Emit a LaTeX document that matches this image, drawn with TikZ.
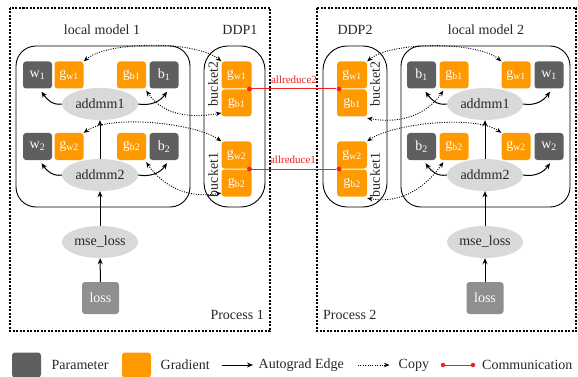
\documentclass[tikz,border=0pt]{standalone}
\usepackage{fontspec}
\setmainfont{Liberation Serif}
\usetikzlibrary{shapes.geometric,arrows.meta}
\definecolor{pgray}{HTML}{5F5F5F}
\definecolor{gorange}{HTML}{FF9900}
\definecolor{opgray}{HTML}{D9D9D9}
\definecolor{lossgray}{HTML}{8F8F8F}
\definecolor{commred}{HTML}{EE2222}
\tikzset{
  fnt/.style={font=\fontsize{14}{16}\selectfont},
  box/.style={fnt, rounded corners=3pt, minimum width=29pt, minimum height=27pt, inner sep=0pt, text=white},
  param/.style={box, fill=pgray},
  grad/.style={box, fill=gorange},
  dgrad/.style={grad, minimum width=30pt},
  op/.style={fnt, ellipse, fill=opgray, minimum width=76pt, minimum height=32pt, inner sep=0pt, text=black!85},
  lossbox/.style={box, fill=lossgray, minimum width=37pt, minimum height=32pt},
  lbl/.style={fnt, inner sep=0pt, text=black!85},
  grouprect/.style={draw, line width=0.9pt, rounded corners=20pt},
  ddprect/.style={draw, line width=0.9pt, rounded corners=24pt},
  procrect/.style={draw, line width=1.1pt, dash pattern=on 2pt off 1.5pt},
  autog/.style={-{Stealth[length=6pt,width=5pt]}, line width=1pt},
  copyarr/.style={{Stealth[length=5.5pt,width=4.5pt]}-{Stealth[length=5.5pt,width=4.5pt]}, line width=0.9pt, dash pattern=on 1pt off 1.4pt},
  comm/.style={commred, line width=1pt},
  rdot/.style={circle, fill=commred, inner sep=0pt, minimum size=5pt},
  redlbl/.style={font=\fontsize{11}{12}\selectfont, text=commred, inner sep=0pt},
}
\begin{document}
\begin{tikzpicture}[x=1pt,y=1pt]
\useasboundingbox (0,0) rectangle (578,-377);

% ---------- frames ----------
\draw[procrect] (10,-8) rectangle (270,-331);
\draw[procrect] (317,-8) rectangle (576,-331);
\draw[grouprect] (16,-46) rectangle (190,-207);
\draw[ddprect] (204,-46) rectangle (265,-207);
\draw[ddprect] (323,-46) rectangle (387,-207);
\draw[grouprect] (401,-46) rectangle (570,-207);

\node[lbl] (t1) at (102,-30) {local model 1};
\node[lbl] (t2) at (240,-30) {DDP1};
\node[lbl] (t3) at (355,-30) {DDP2};
\node[lbl] (t4) at (486,-30) {local model 2};
\node[lbl, anchor=east] (p1) at (264,-315) {Process 1};
\node[lbl, anchor=west] (p2) at (323,-315) {Process 2};

% ---------- Process 1 ----------
\node[param] (aw1) at (37.5,-75) {w\textsubscript{1}};
\node[grad]  (agw1) at (69,-75) {g\textsubscript{w1}};
\node[grad]  (agb1) at (131.5,-75) {g\textsubscript{b1}};
\node[param] (ab1) at (164,-75) {b\textsubscript{1}};
\node[op] (aadd1) at (100,-104) {addmm1};
\node[param] (aw2) at (37.5,-146.5) {w\textsubscript{2}};
\node[grad]  (agw2) at (69,-146.5) {g\textsubscript{w2}};
\node[grad]  (agb2) at (131.5,-146.5) {g\textsubscript{b2}};
\node[param] (ab2) at (164,-146.5) {b\textsubscript{2}};
\node[op] (aadd2) at (100,-175) {addmm2};
\node[op] (amse) at (100,-242) {mse\_loss};
\node[lossbox] (aloss) at (100.5,-298) {loss};

\node[dgrad] (dagw1) at (236.5,-75) {g\textsubscript{w1}};
\node[dgrad] (dagb1) at (236.5,-103) {g\textsubscript{b1}};
\node[dgrad] (dagw2) at (236.5,-155) {g\textsubscript{w2}};
\node[dgrad] (dagb2) at (236.5,-183) {g\textsubscript{b2}};
\node[lbl, rotate=90] (abk2) at (213,-84) {bucket2};
\node[lbl, rotate=90] (abk1) at (213,-175) {bucket1};

\draw[autog] (aloss) -- (amse);
\draw[autog] (amse) -- (aadd2);
\draw[autog] (aadd2) -- (aadd1);
\draw[autog] (aadd1.west) to[out=190,in=-55] ([xshift=4pt,yshift=-3pt]aw1.south);
\draw[autog] (aadd1.east) to[out=-10,in=235] ([xshift=3pt,yshift=-3pt]ab1.south);
\draw[autog] (aadd2.west) to[out=190,in=-55] ([xshift=4pt,yshift=-3pt]aw2.south);
\draw[autog] (aadd2.east) to[out=-10,in=235] ([xshift=3pt,yshift=-3pt]ab2.south);

\draw[copyarr] (agw1.north east) to[out=40,in=140,looseness=0.6] (dagw1.north west);
\draw[copyarr] ([xshift=0pt,yshift=-2pt]agb1.south east) to[out=-55,in=190] ([yshift=-10pt]dagb1.west);
\draw[copyarr] (agw2.north east) to[out=35,in=145,looseness=0.6] (dagw2.north west);
\draw[copyarr] ([xshift=0pt,yshift=-2pt]agb2.south east) to[out=-55,in=190] ([yshift=-10pt]dagb2.west);

% ---------- Process 2 ----------
\node[param] (bb1) at (421.5,-75) {b\textsubscript{1}};
\node[grad]  (bgb1) at (454,-75) {g\textsubscript{b1}};
\node[grad]  (bgw1) at (516,-75) {g\textsubscript{w1}};
\node[param] (bw1) at (549,-75) {w\textsubscript{1}};
\node[op] (badd1) at (485,-104) {addmm1};
\node[param] (bb2) at (421.5,-146.5) {b\textsubscript{2}};
\node[grad]  (bgb2) at (454,-146.5) {g\textsubscript{b2}};
\node[grad]  (bgw2) at (516,-146.5) {g\textsubscript{w2}};
\node[param] (bw2) at (549,-146.5) {w\textsubscript{2}};
\node[op] (badd2) at (485,-175) {addmm2};
\node[op] (bmse) at (485,-242) {mse\_loss};
\node[lossbox] (bloss) at (485,-298) {loss};

\node[dgrad] (dbgw1) at (352,-75) {g\textsubscript{w1}};
\node[dgrad] (dbgb1) at (352,-103) {g\textsubscript{b1}};
\node[dgrad] (dbgw2) at (352,-155) {g\textsubscript{w2}};
\node[dgrad] (dbgb2) at (352,-183) {g\textsubscript{b2}};
\node[lbl, rotate=90] (bbk2) at (375,-84) {bucket2};
\node[lbl, rotate=90] (bbk1) at (375,-175) {bucket1};

\draw[autog] (bloss) -- (bmse);
\draw[autog] (bmse) -- (badd2);
\draw[autog] (badd2) -- (badd1);
\draw[autog] (badd1.west) to[out=190,in=-55] ([xshift=4pt,yshift=-3pt]bb1.south);
\draw[autog] (badd1.east) to[out=-10,in=235] ([xshift=1pt,yshift=-3pt]bw1.south);
\draw[autog] (badd2.west) to[out=190,in=-55] ([xshift=4pt,yshift=-3pt]bb2.south);
\draw[autog] (badd2.east) to[out=-10,in=235] ([xshift=1pt,yshift=-3pt]bw2.south);

\draw[copyarr] (dbgw1.north east) to[out=40,in=140,looseness=0.6] (bgw1.north west);
\draw[copyarr] ([yshift=-1.5pt]dbgb1.south east) to[out=-10,in=235] ([xshift=4pt,yshift=-2pt]bgb1.south west);
\draw[copyarr] (dbgw2.north east) to[out=35,in=145,looseness=0.6] (bgw2.north west);
\draw[copyarr] ([yshift=-1.5pt]dbgb2.south east) to[out=-10,in=235] ([xshift=4pt,yshift=-2pt]bgb2.south west);

% ---------- communication ----------
\node[rdot] (r2a) at (249.5,-89) {};
\node[rdot] (r2b) at (339,-89) {};
\node[rdot] (r1a) at (249.5,-169) {};
\node[rdot] (r1b) at (339,-169) {};
\draw[comm] (r2a) -- (r2b);
\draw[comm] (r1a) -- (r1b);
\node[redlbl] (ar2) at (294,-80) {allreduce2};
\node[redlbl] (ar1) at (293,-160) {allreduce1};

% ---------- legend ----------
\node[param, minimum height=25pt] (lp) at (26.5,-365) {};
\node[lbl, anchor=west] (lpt) at (51.5,-365) {Parameter};
\node[grad, minimum height=25pt] (lg) at (136.5,-365) {};
\node[lbl, anchor=west] (lgt) at (160.5,-365) {Gradient};
\coordinate (la1) at (221.5,-365);
\coordinate (la2) at (253,-365);
\draw[-{Stealth[length=6pt,width=5pt]}, line width=1pt] (la1) -- (la2);
\node[lbl, anchor=west] (lat) at (258.5,-365) {Autograd Edge};
\coordinate (lc1) at (358,-365);
\coordinate (lc2) at (389.5,-365);
\draw[-{Stealth[length=5.5pt,width=4.5pt]}, line width=0.9pt, dash pattern=on 1pt off 1.4pt] (lc1) -- (lc2);
\node[lbl, anchor=west] (lct) at (398.5,-365) {Copy};
\node[rdot, minimum size=4.5pt] (lr1) at (443,-365) {};
\node[rdot, minimum size=4.5pt] (lr2) at (473,-365) {};
\draw[comm] (lr1) -- (lr2);
\node[lbl, anchor=west] (lrt) at (482,-365) {Communication};
\end{tikzpicture}
\end{document}
